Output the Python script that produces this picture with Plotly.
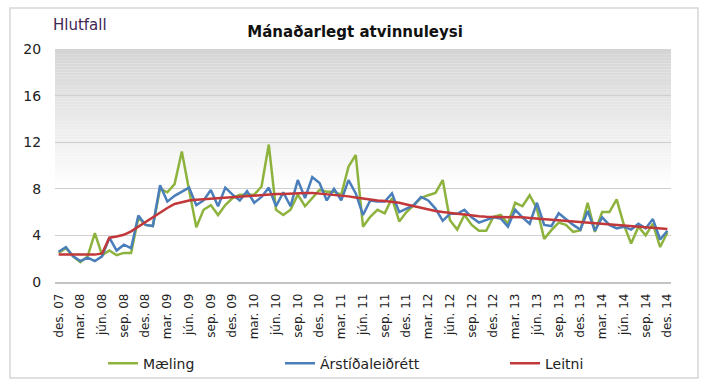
import plotly.graph_objects as go

# ---- data ----
month_names = ["jan", "feb", "mar", "apr", "maí", "jún", "júl", "ágú", "sep", "okt", "nóv", "des"]
months = ["des. 07"] + [f"{m}. {y:02d}" for y in range(8, 15) for m in month_names]

maeling = [2.5, 2.9, 2.2, 1.7, 2.2, 4.2, 2.3, 2.7, 2.3, 2.5, 2.5, 5.5, 4.9, 4.8, 8.0, 7.7, 8.4,
           11.2, 7.9, 4.7, 6.2, 6.6, 5.75, 6.6, 7.2, 7.5, 7.5, 7.5, 8.2, 11.8, 6.2, 5.75, 6.2,
           7.5, 6.5, 7.2, 7.9, 7.75, 7.75, 7.5, 9.9, 10.9, 4.75, 5.6, 6.2, 5.9, 7.2, 5.2, 6.0,
           6.6, 7.2, 7.45, 7.65, 8.75, 5.3, 4.5, 5.75, 4.9, 4.4, 4.4, 5.6, 5.75, 5.0, 6.8, 6.5,
           7.45, 6.3, 3.7, 4.45, 5.1, 4.9, 4.3, 4.45, 6.8, 4.3, 6.0, 6.0, 7.1, 4.9, 3.3, 4.75,
           4.0, 5.0, 3.0, 4.25]

arstidaleidrett = [2.6, 3.0, 2.2, 1.8, 2.1, 1.8, 2.2, 3.8, 2.7, 3.2, 2.9, 5.7, 4.9, 4.8, 8.3, 6.9,
                   7.4, 7.75, 8.1, 6.6, 7.0, 7.9, 6.5, 8.1, 7.5, 7.0, 7.8, 6.8, 7.3, 8.1, 6.5, 7.7,
                   6.5, 8.75, 7.2, 9.0, 8.5, 7.0, 8.0, 7.0, 8.75, 7.6, 5.75, 7.0, 6.9, 6.9, 7.6,
                   6.0, 6.3, 6.6, 7.3, 7.0, 6.3, 5.25, 5.85, 5.85, 6.2, 5.55, 5.1, 5.3, 5.55, 5.45,
                   4.75, 6.2, 5.55, 5.0, 6.8, 4.9, 4.8, 5.9, 5.4, 4.9, 4.5, 6.1, 4.4, 5.55, 4.9,
                   4.6, 4.75, 4.5, 5.0, 4.6, 5.4, 3.65, 4.4]

leitni = [2.35, 2.35, 2.3, 2.3, 2.3, 2.35, 2.45, 3.8, 3.9, 4.05, 4.35, 4.75, 5.2, 5.6, 6.0, 6.35,
          6.7, 6.85, 7.0, 7.05, 7.1, 7.15, 7.2, 7.25, 7.3, 7.3, 7.35, 7.4, 7.45, 7.5, 7.55, 7.55,
          7.6, 7.65, 7.65, 7.65, 7.6, 7.55, 7.5, 7.45, 7.35, 7.25, 7.15, 7.05, 7.0, 6.95, 6.9,
          6.8, 6.65, 6.5, 6.35, 6.2, 6.1, 6.0, 5.9, 5.85, 5.8, 5.7, 5.65, 5.6, 5.6, 5.55, 5.55,
          5.55, 5.55, 5.5, 5.45, 5.45, 5.4, 5.35, 5.3, 5.25, 5.2, 5.15, 5.1, 5.05, 5.0, 4.95,
          4.9, 4.85, 4.8, 4.7, 4.65, 4.6, 4.55]

y_ticks = [0, 4, 8, 12, 16, 20]
tick_months = months[::3]

title_text = "Mánaðarlegt atvinnuleysi"
y_label = "Hlutfall"

FONT = "DejaVu Sans"

fig = go.Figure()
fig.add_trace(go.Scatter(x=months, y=maeling, name="Mæling", mode="lines",
                         line=dict(color="#8db33e", width=2.5), legend="legend"))
fig.add_trace(go.Scatter(x=months, y=arstidaleidrett, name="Árstíðaleiðrétt", mode="lines",
                         line=dict(color="#4a7ebb", width=2.5), legend="legend2"))
fig.add_trace(go.Scatter(x=months, y=leitni, name="Leitni", mode="lines",
                         line=dict(color="#c2383a", width=2.5), legend="legend3"))

# gradient plot background (grey at top fading to white)
shapes = []
n = 48
top, bottom = 20.0, 8.0
for k in range(n):
    y0 = bottom + (top - bottom) * k / n
    y1 = bottom + (top - bottom) * (k + 1) / n
    frac = (k + 0.5) / n
    c = int(round(255 - (255 - 212) * frac))
    shapes.append(dict(type="rect", xref="paper", yref="y", x0=0, x1=1, y0=y0, y1=y1,
                       fillcolor=f"rgb({c},{c},{c})", line=dict(width=0), layer="below"))
# outer frame
shapes.append(dict(type="rect", xref="paper", yref="paper", x0=-0.0731, x1=1.0438,
                   y0=-0.412, y1=1.176, line=dict(color="#d6d6d6", width=1.5),
                   fillcolor="rgba(0,0,0,0)", layer="below"))

legend_common = dict(orientation="h", yanchor="middle", y=-0.35, xanchor="left",
                     font=dict(family=FONT, size=14, color="#222222"),
                     bgcolor="rgba(0,0,0,0)", itemwidth=30)

fig.update_layout(
    width=713, height=391,
    margin=dict(l=55, r=42, t=49, b=109),
    paper_bgcolor="white", plot_bgcolor="white",
    showlegend=True,
    font=dict(family=FONT, color="#222222"),
    title=dict(text=f"<b>{title_text}</b>", x=0.498, xref="container", xanchor="center",
               y=0.918, yref="container", yanchor="middle",
               font=dict(family=FONT, size=15, color="#111111")),
    shapes=shapes,
    legend=dict(x=(103 - 55) / 616, **legend_common),
    legend2=dict(x=(280 - 55) / 616, **legend_common),
    legend3=dict(x=(505 - 55) / 616, **legend_common),
    annotations=[dict(text=y_label, xref="paper", yref="paper", x=(51 - 55) / 616,
                      y=(282 - 25) / 233, xanchor="left", yanchor="middle", showarrow=False,
                      font=dict(family=FONT, size=15, color="#3f2652"))],
)

fig.update_xaxes(type="category", tickmode="array", tickvals=tick_months, ticktext=tick_months,
                 tickangle=-90, tickfont=dict(family=FONT, size=12, color="#222222"),
                 showgrid=False, showline=True, linecolor="#c4c4c4", linewidth=1.5,
                 ticks="outside", ticklen=5, tickcolor="rgba(0,0,0,0)",
                 range=[-0.5, len(months) - 0.5], fixedrange=True, automargin=False)
fig.update_yaxes(range=[0, 20], tickmode="array", tickvals=y_ticks,
                 tickfont=dict(family=FONT, size=14, color="#222222"),
                 showgrid=True, gridcolor="#cfcfcf", gridwidth=1, zeroline=False,
                 showline=False, ticks="outside", ticklen=10, tickcolor="rgba(0,0,0,0)",
                 fixedrange=True, automargin=False)

fig.write_html("out.html", config={"displayModeBar": False},
               post_script="document.body.style.margin='0';")
